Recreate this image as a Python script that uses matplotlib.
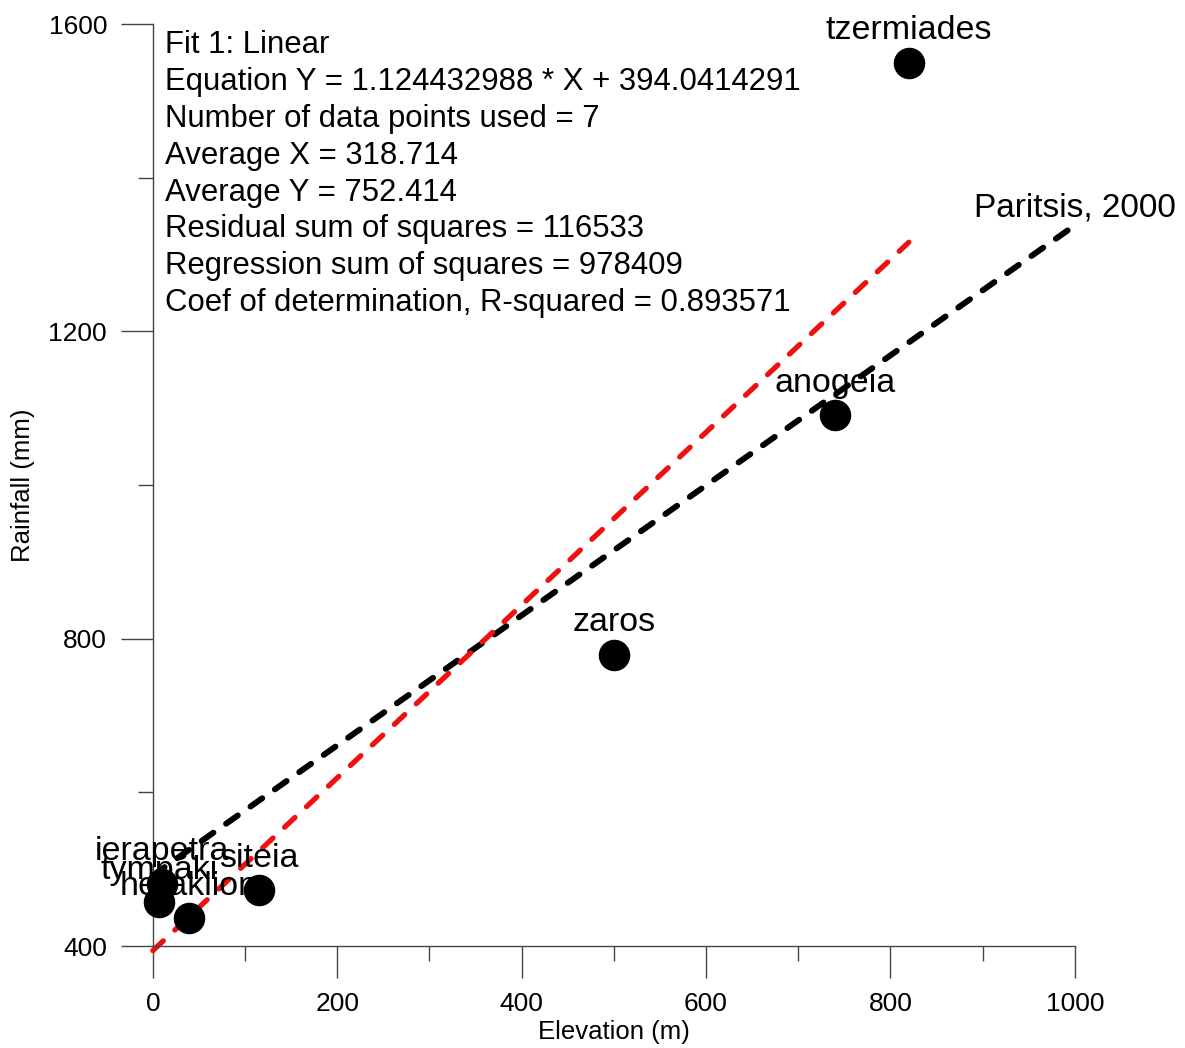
import matplotlib.pyplot as plt
import numpy as np

plt.rcParams['font.family'] = ['Liberation Sans', 'DejaVu Sans']

# stations: elevation (m) and rainfall (mm)
stations = ['tzermiades', 'anogeia', 'zaros', 'siteia', 'heraklion', 'tympaki', 'ierapetra']
elevation = [820, 740, 500, 115, 39, 7, 10]
rainfall = [1550, 1091, 779, 473, 436, 457, 481]

# linear fit reported in the text box
slope = 1.124432988
intercept = 394.0414291
fit_lines = ['Fit 1: Linear',
             'Equation Y = 1.124432988 * X + 394.0414291',
             'Number of data points used = 7',
             'Average X = 318.714',
             'Average Y = 752.414',
             'Residual sum of squares = 116533',
             'Regression sum of squares = 978409',
             'Coef of determination, R-squared = 0.893571']

# Paritsis, 2000 line (end points)
paritsis_x = [0, 1000]
paritsis_y = [492, 1338]

fig = plt.figure(figsize=(11.85, 10.48), dpi=100)
ax = fig.add_axes([0.129, 0.0973, 0.778, 0.8797])

ax.plot(paritsis_x, paritsis_y, color='black', lw=4.3, ls=(0, (2.4, 2.6)),
        dash_capstyle='round', clip_on=False, zorder=2)
fx = np.array([0, max(elevation)])
ax.plot(fx, slope * fx + intercept, color='#ee1111', lw=3.8, ls=(0, (2.7, 3.0)),
        dash_capstyle='round', clip_on=False, zorder=2)
ax.scatter(elevation, rainfall, s=470, color='black', zorder=3, clip_on=False)

for name, x, y in zip(stations, elevation, rainfall):
    ax.annotate(name, (x, y), xytext=(0, 23), textcoords='offset points',
                ha='center', va='center', fontsize=24.5, zorder=4)

ax.text(891, 1361, 'Paritsis, 2000', fontsize=24, va='center', ha='left', clip_on=False)
ax.text(0.013, 0.994, '\n'.join(fit_lines), transform=ax.transAxes,
        fontsize=22.4, va='top', ha='left', linespacing=1.303)

ax.set_xlim(0, 1000)
ax.set_ylim(400, 1600)
ax.spines['top'].set_visible(False)
ax.spines['right'].set_visible(False)
for s in ['left', 'bottom']:
    ax.spines[s].set_color('#444444')
    ax.spines[s].set_linewidth(1.0)

ax.set_xticks(np.arange(0, 1001, 200))
ax.set_xticks(np.arange(100, 1000, 200), minor=True)
ax.set_yticks([400, 800, 1200, 1600])
ax.set_yticks([600, 1000, 1400], minor=True)
ax.tick_params(which='major', length=23, width=1.0, color='#444444',
               labelsize=19, pad=10)
ax.tick_params(which='minor', length=11, width=1.0, color='#444444')

ax.set_xlabel('Elevation (m)', fontsize=18.5, labelpad=3)
ax.set_ylabel('Rainfall (mm)', fontsize=18.5, labelpad=10)

fig.savefig('out.png', dpi=100)
